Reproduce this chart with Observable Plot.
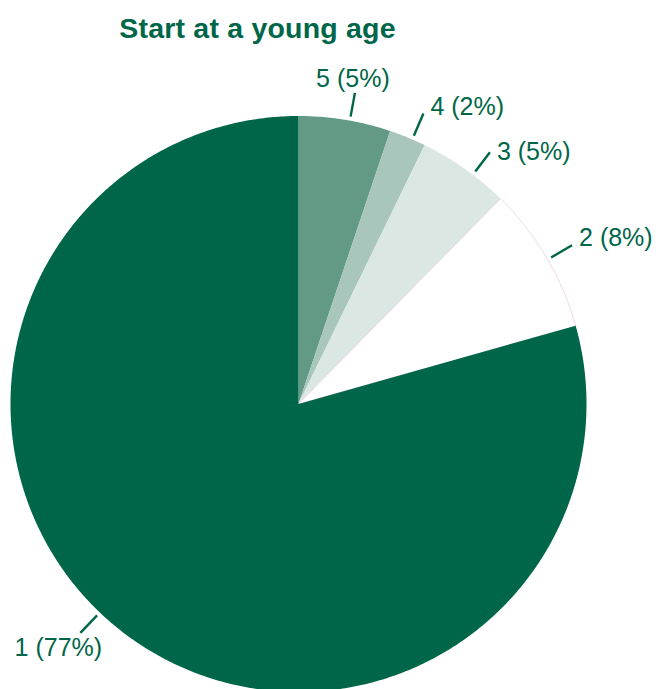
<!DOCTYPE html>
<html>
<head>
<meta charset="utf-8">
<script src="https://cdn.jsdelivr.net/npm/d3@7"></script>
<script src="https://cdn.jsdelivr.net/npm/@observablehq/plot@0.6"></script>
<style>
  html, body { margin: 0; padding: 0; background: #fff; overflow: hidden; }
  #title { width: 515px; height: 56px; text-align: center; font-family: "Liberation Sans", Arial, sans-serif;
           font-weight: bold; font-size: 28.5px; letter-spacing: 0.2px; color: #006649; line-height: 56px; box-sizing: border-box; padding-top: 0px; }
  #chart svg { display: block; }
</style>
</head>
<body>
<div id="title">Start at a young age</div>
<div id="chart"></div>
<script>
// Data (clockwise from 12 o'clock)
const categories = ["5", "4", "3", "2", "1"];
const percents   = [5, 2, 5, 8, 77];
const colors     = ["#629a86", "#a8c6bb", "#dbe7e3", "#ffffff", "#006649"];

// Label layout (angle nudge in degrees, text offsets, anchor)
const labelNudge  = [1, 1, 2, 0.5, 6.5];
const labelDx     = [-2, 7, 7, 7, -22];
const labelDy     = [-14, -6, 0, -7, 15];
const labelAnchor = ["middle", "start", "start", "start", "middle"];

const W = 656, H = 633, R = 288, CX = 298, CY = 347.5;
const total = d3.sum(percents);

// slices as angle spans
let acc = 0;
const slices = categories.map((c, i) => {
  const a0 = acc / total * 2 * Math.PI;
  acc += percents[i];
  const a1 = acc / total * 2 * Math.PI;
  return {cat: c, pct: percents[i], color: colors[i], a0, a1, i};
});

function polygon(s) {
  const pts = [{x: 0, y: 0}];
  const n = Math.max(2, Math.ceil((s.a1 - s.a0) / (Math.PI / 360)));
  for (let k = 0; k <= n; k++) {
    const a = s.a0 + (s.a1 - s.a0) * k / n;
    pts.push({x: Math.sin(a), y: Math.cos(a)});
  }
  return pts;
}

const leaders = slices.map(s => {
  const a = (s.a0 + s.a1) / 2 + labelNudge[s.i] * Math.PI / 180;
  return {
    x1: 1.014 * Math.sin(a), y1: 1.014 * Math.cos(a),
    x2: 1.098 * Math.sin(a), y2: 1.098 * Math.cos(a),
    label: `${s.cat} (${s.pct}%)`, i: s.i
  };
});

const marks = [];
slices.forEach(s => {
  marks.push(Plot.line(polygon(s), {
    x: "x", y: "y", curve: "linear-closed", fill: s.color,
    stroke: s.color === "#ffffff" ? "#e6cde6" : "none", strokeWidth: 0.8
  }));
});
marks.push(Plot.link(leaders, {x1: "x1", y1: "y1", x2: "x2", y2: "y2", stroke: "#006649", strokeWidth: 2.4}));
leaders.forEach(l => {
  marks.push(Plot.text([l], {
    x: "x2", y: "y2", text: "label", dx: labelDx[l.i], dy: labelDy[l.i],
    textAnchor: labelAnchor[l.i], fill: "#006649", fontSize: 25,
    fontFamily: "Liberation Sans, Arial, sans-serif"
  }));
});

const chart = Plot.plot({
  width: W, height: H,
  margin: 0,
  x: {domain: [-CX / R, (W - CX) / R], axis: null},
  y: {domain: [-(H - CY) / R, CY / R], axis: null},
  style: {background: "white", overflow: "visible"},
  marks
});
document.getElementById("chart").appendChild(chart);
</script>
</body>
</html>
